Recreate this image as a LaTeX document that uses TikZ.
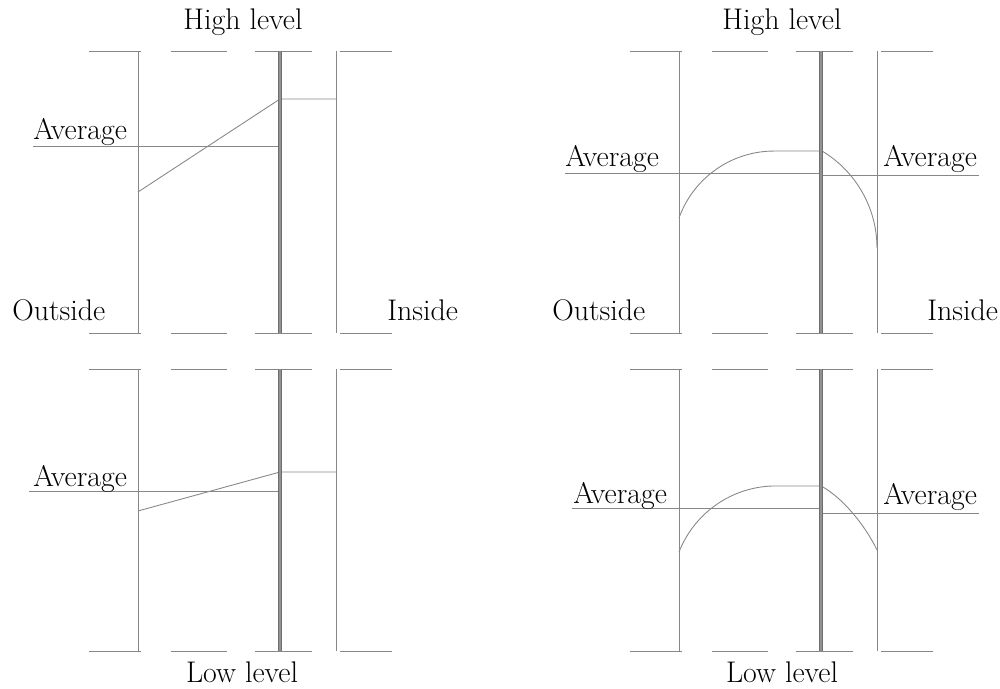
\documentclass[tikz,border=0pt]{standalone}
\usepackage{tikz}
\usetikzlibrary{positioning}
\definecolor{wallgray}{RGB}{135,135,135}
\definecolor{coregray}{RGB}{110,110,110}

\begin{document}
\begin{tikzpicture}[x=0.02cm, y=-0.02cm,
    wall/.style={wallgray, line width=0.5pt},
    membrane/.style={draw=coregray, line width=0.8pt,
                     double=coregray!75, double distance=0.7pt},
    lbl/.style={inner sep=0pt, anchor=base west,
                font=\fontsize{17}{20}\selectfont}]

  % page frame (pixel units, y downwards)
  \useasboundingbox (0,0) rectangle (1000,689);

  % wall skeleton of the four panels
  \foreach \dx/\dy in {0/0, 541/0, 0/318, 541/318} {
    \begin{scope}[shift={(\dx,\dy)}]
      \draw[wall] (89,51) -- (141,51)  (171,51) -- (227,51)
                  (255,51) -- (312,51) (340,51) -- (392,51);
      \draw[wall] (89,333) -- (141,333)  (171,333) -- (227,333)
                  (255,333) -- (312,333) (340,333) -- (392,333);
      \draw[wall] (138,51) -- (138,333);
      \draw[wall] (336,51) -- (336,333);
    \end{scope}
  }

  % linear profiles (left column)
  \draw[wall] (33,146) -- (280,146);
  \draw[wall] (138,192) -- (280,99) -- (336,99);
  \draw[wall] (29,491) -- (280,491);
  \draw[wall] (138,511) -- (280,472) -- (336,472);

  % curved profiles (right column)
  \draw[wall] (565,173) -- (821,173);
  \draw[wall] (821,175) -- (979,175);
  \draw[wall] (679,218) arc[start angle=-160.3, end angle=-90, radius=101]
    -- (821,151) -- (822,151) arc[start angle=-59.1, end angle=0, radius=113];
  \draw[wall] (572,508) -- (821,508);
  \draw[wall] (821,513) -- (979,513);
  \draw[wall] (679,552) arc[start angle=-158.6, end angle=-90, radius=104]
    -- (821,486) .. controls (842,497) and (865,525) .. (877,550);

  % membranes
  \foreach \dx/\dy in {0/0, 541/0, 0/318, 541/318}
    \draw[membrane] (280+\dx,51+\dy) -- (280+\dx,333+\dy);

  % labels
  \node[lbl, anchor=base] (highL) at (243,30) {High level};
  \node[lbl, anchor=base] (highR) at (782,30) {High level};
  \node[lbl, anchor=base] (lowL) at (242,682) {Low level};
  \node[lbl, anchor=base] (lowR) at (782,682) {Low level};
  \node[lbl] (avgTL) at (33,140) {Average};
  \node[lbl] (avgBL) at (33,486) {Average};
  \node[lbl] (avgTRo) at (565,167) {Average};
  \node[lbl] (avgTRi) at (883,167) {Average};
  \node[lbl] (avgBRo) at (573,503) {Average};
  \node[lbl] (avgBRi) at (883,504) {Average};
  \node[lbl] (outL) at (12,320) {Outside};
  \node[lbl] (outR) at (552,320) {Outside};
  \node[lbl] (inL) at (387,320) {Inside};
  \node[lbl] (inR) at (927,320) {Inside};
\end{tikzpicture}
\end{document}
